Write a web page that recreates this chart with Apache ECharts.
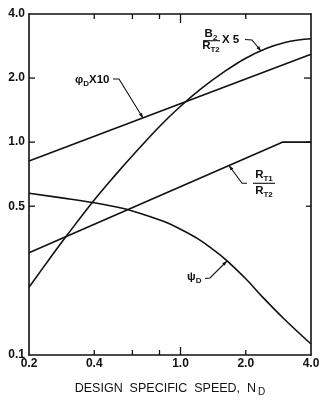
<!DOCTYPE html>
<html><head><meta charset="utf-8">
<script src="https://cdn.jsdelivr.net/npm/echarts@6/dist/echarts.min.js"></script>
<style>html,body{margin:0;padding:0;background:#fff}#c{width:329px;height:408px}</style>
</head><body><div id="c"></div>
<script>
// ---- data ----
const xLabelValues = [0.2, 0.4, 1.0, 2.0, 4.0];
const xTickValues = [0.4, 0.6, 0.8, 1.0, 2.0];
const yLabelValues = [0.1, 0.5, 1.0, 2.0, 4.0];
const yTickValues = [0.5, 1.0, 2.0];

const phiX = [0.2, 4.0];
const phiY = [0.815, 2.59];

const b2X = [0.2, 0.25, 0.3, 0.4, 0.5, 0.6, 0.8, 1.0, 1.25, 1.6, 2.0, 2.5, 3.0, 3.5, 4.0];
const b2Y = [0.208, 0.285, 0.366, 0.535, 0.70, 0.863, 1.185, 1.475, 1.79, 2.15, 2.48, 2.76, 2.93, 3.02, 3.06];

const rtX = [0.2, 2.95, 4.0];
const rtY = [0.302, 1.0, 1.0];

const psiX = [0.2, 0.3, 0.4, 0.5, 0.6, 0.84, 1.0, 1.2, 1.4, 1.64, 2.0, 2.43, 3.0, 4.0];
const psiY = [0.575, 0.543, 0.519, 0.497, 0.475, 0.4235, 0.39, 0.352, 0.315, 0.277, 0.228, 0.184, 0.148, 0.1126];

const xTitle = 'DESIGN  SPECIFIC  SPEED,  N';

// ---- chart ----
const X_MIN = 0.2, X_MAX = 4.0, Y_MIN = 0.1, Y_MAX = 4.0;
const GRID = { left: 29, top: 14, right: 18, bottom: 53 };
const W = 329, H = 408;
const FONT = "'Liberation Sans', Arial, sans-serif";
const INK = '#111';
const zip = (xs, ys) => xs.map((x, i) => [x, ys[i]]);
const fmt = v => Number(v).toFixed(1);

function lineSeries(xs, ys) {
  return { type: 'line', data: zip(xs, ys), symbol: 'none',
    smooth: xs.length > 3 ? 0.4 : false,
    lineStyle: { color: INK, width: 1.6 }, silent: true, xAxisIndex: 0, yAxisIndex: 0 };
}

function segment(x1, y1, x2, y2, w) {
  return { type: 'polyline', shape: { points: [[x1, y1], [x2, y2]] },
    style: { stroke: INK, lineWidth: w || 1.3, fill: null }, silent: true, z: 10 };
}

function leader(points) {
  const n = points.length;
  const [x1, y1] = points[n - 2], [x2, y2] = points[n - 1];
  const L = Math.hypot(x2 - x1, y2 - y1), ux = (x2 - x1) / L, uy = (y2 - y1) / L;
  const al = 5, aw = 1.8;
  const bx = x2 - ux * al, by = y2 - uy * al;
  return [
    { type: 'polyline', shape: { points }, style: { stroke: INK, lineWidth: 1.1, fill: null }, silent: true },
    { type: 'polygon', shape: { points: [[x2, y2], [bx - uy * aw, by + ux * aw], [bx + uy * aw, by - ux * aw]] },
      style: { fill: INK }, silent: true }
  ];
}

const rich = {
  a: { fontFamily: FONT, fontSize: 11.5, fontWeight: 'bold', color: INK, lineHeight: 16, verticalAlign: 'middle' },
  s: { fontFamily: FONT, fontSize: 8, fontWeight: 'bold', color: INK, lineHeight: 8, verticalAlign: 'bottom' }
};
function label(text, x, y, align) {
  return { type: 'text', x, y, silent: true,
    style: { text, rich, align: align || 'left', verticalAlign: 'middle', fill: INK } };
}

const annotations = [
  label('{a|\u03c6}{s|D}{a|X10}', 75, 80),
  ...leader([[113, 79], [119, 79], [143, 118]]),
  label('{a|B}{s|2}', 211, 34, 'center'),
  segment(203, 40.7, 220, 40.7, 1.1),
  label('{a|R}{s|T2}', 211, 46, 'center'),
  label('{a|X 5}', 222, 40),
  ...leader([[245, 39.5], [252, 40], [261, 51]]),
  label('{a|R}{s|T1}', 264, 175, 'center'),
  segment(253, 183.3, 275, 183.3, 1.1),
  label('{a|R}{s|T2}', 264, 191, 'center'),
  ...leader([[247, 183.3], [242, 183.3], [229, 165.5]]),
  label('{a|\u03c8}{s|D}', 187, 277),
  ...leader([[205, 278.5], [210, 278], [227, 261]])
];

const axisLine = { show: true, lineStyle: { color: INK, width: 1.6 } };
const labelStyle = { color: INK, fontFamily: FONT, fontSize: 12, fontWeight: 'bold' };

const option = {
  animation: false,
  backgroundColor: '#fff',
  grid: { ...GRID, containLabel: false },
  xAxis: [
    { type: 'log', logBase: 10, min: X_MIN, max: X_MAX, position: 'bottom',
      axisLine, splitLine: { show: false }, minorTick: { show: false },
      axisTick: { show: false },
      axisLabel: { show: true, customValues: xLabelValues, formatter: fmt, margin: 3, ...labelStyle },
      name: xTitle + '{s|D}', nameLocation: 'middle', nameGap: 26,
      nameTextStyle: { color: INK, fontFamily: FONT, fontSize: 12.5, lineHeight: 16, rich: {
        s: { fontFamily: FONT, fontSize: 10, color: INK, verticalAlign: 'bottom', lineHeight: 8, padding: [0, 0, 0, 2] } } }
    },
    { type: 'log', logBase: 10, min: X_MIN, max: X_MAX, position: 'top',
      axisLine, splitLine: { show: false }, axisTick: { show: false }, axisLabel: { show: false }
    }
  ],
  yAxis: [
    { type: 'log', logBase: 10, min: Y_MIN, max: Y_MAX, position: 'left',
      axisLine, splitLine: { show: false }, axisTick: { show: false },
      axisLabel: { show: true, customValues: yLabelValues, formatter: fmt, margin: 4, ...labelStyle }
    },
    { type: 'log', logBase: 10, min: Y_MIN, max: Y_MAX, position: 'right',
      axisLine, splitLine: { show: false }, axisTick: { show: false }, axisLabel: { show: false }
    }
  ],
  series: [
    lineSeries(phiX, phiY),
    lineSeries(b2X, b2Y),
    lineSeries(rtX, rtY),
    lineSeries(psiX, psiY)
  ]
};

const chart = echarts.init(document.getElementById('c'), null, { renderer: 'canvas' });
chart.setOption(option);

// inward tick marks on all four frame sides, placed through the chart's own scale
// (falls back to the same log mapping over the grid rectangle if conversion is unavailable)
(function () {
  const gx0 = GRID.left, gx1 = W - GRID.right, gy0 = GRID.top, gy1 = H - GRID.bottom;
  const lg = Math.log10;
  const fx = v => gx0 + (lg(v) - lg(X_MIN)) / (lg(X_MAX) - lg(X_MIN)) * (gx1 - gx0);
  const fy = v => gy1 - (lg(v) - lg(Y_MIN)) / (lg(Y_MAX) - lg(Y_MIN)) * (gy1 - gy0);
  const toPx = (x, y) => {
    let p = null;
    try { p = chart.convertToPixel({ seriesIndex: 0 }, [x, y]); } catch (e) { p = null; }
    if (!p || !isFinite(p[0]) || !isFinite(p[1])) p = [fx(x), fy(y)];
    return p;
  };
  const ticks = [];
  xTickValues.forEach(v => {
    const b = toPx(v, Y_MIN), t = toPx(v, Y_MAX);
    const major = Math.abs(v - 1) < 1e-9;
    ticks.push(segment(b[0], b[1], b[0], b[1] - (major ? 8 : 5)));
    ticks.push(segment(t[0], t[1], t[0], t[1] + (major ? 9 : 5)));
  });
  yTickValues.forEach(v => {
    const l = toPx(X_MIN, v), r = toPx(X_MAX, v);
    ticks.push(segment(l[0], l[1], l[0] + 6, l[1]));
    ticks.push(segment(r[0], r[1], r[0] - (Math.abs(v - 2) < 1e-9 ? 7 : 5), r[1]));
  });
  chart.setOption({ graphic: [...annotations, ...ticks] });
})();
</script>
</body></html>
